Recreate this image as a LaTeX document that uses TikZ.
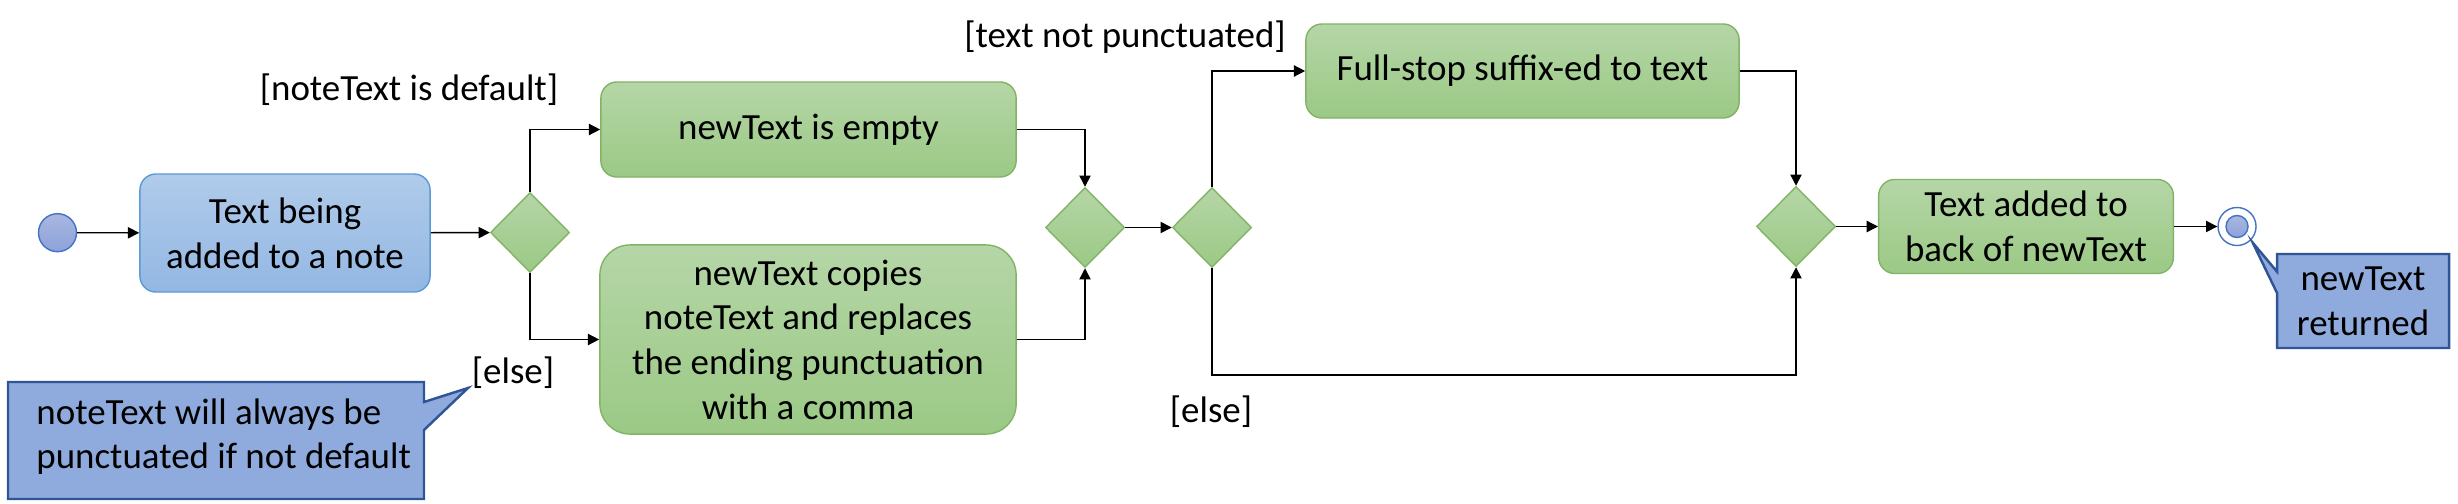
\documentclass[tikz,border=0pt]{standalone}
\usepackage{fontspec}
\setmainfont{Carlito}
\usetikzlibrary{shapes.geometric,arrows.meta}
\definecolor{greentop}{HTML}{B5D6A7}
\definecolor{greenbot}{HTML}{9BC985}
\definecolor{greenline}{HTML}{82B366}
\definecolor{bluetop}{HTML}{B0CBEA}
\definecolor{bluebot}{HTML}{93B7E3}
\definecolor{blueline}{HTML}{5B9BD5}
\definecolor{dottop}{HTML}{A9B7E1}
\definecolor{dotbot}{HTML}{8DA2D9}
\definecolor{dotline}{HTML}{4472C4}
\definecolor{notefill}{HTML}{8FAADC}
\definecolor{noteline}{HTML}{2F5597}
\tikzset{
  every node/.style={font=\fontsize{10.5pt}{12.7pt}\selectfont},
  action/.style={draw=greenline, line width=0.4pt, top color=greentop, bottom color=greenbot,
    rounded corners=0.16cm, align=center, inner sep=0pt},
  choice/.style={diamond, draw=greenline, line width=0.4pt, top color=greentop, bottom color=greenbot,
    minimum width=0.79cm, minimum height=0.8cm, inner sep=0pt},
  dot/.style={circle, draw=dotline, line width=0.4pt, top color=dottop, bottom color=dotbot,
    minimum size=0.38cm, inner sep=0pt},
  flow/.style={-{Triangle[length=3.2pt,width=3.2pt]}, line width=0.4pt},
  note/.style={draw=noteline, fill=notefill, line width=0.7pt}
}
\begin{document}
\begin{tikzpicture}[x=0.01cm,y=-0.01cm]
        \useasboundingbox (0,0) rectangle (2458,503);
        % Nodes
        \node at (57.5,232.7) [dot] (start) {};
        \node at (285,233) [action, draw=blueline, top color=bluetop, bottom color=bluebot,
          minimum width=2.9cm, minimum height=1.18cm] (adding) {Text being\\added to a note};
        \node at (530,232.5) [choice] (check) {};
        \node at (808.5,129.5) [action, minimum width=4.15cm, minimum height=0.95cm] (empty) {newText is empty};
        \node at (808,339.5) [action, rounded corners=0.3cm, minimum width=4.16cm, minimum height=1.89cm]
          (copies) {newText copies\\noteText and replaces\\the ending punctuation\\with a comma};
        \node at (1085,227.5) [choice] (merge) {};
        \node at (1212,227.5) [choice] (punct) {};
        \node at (1522.5,71) [action, minimum width=4.33cm, minimum height=0.94cm] (fullstop) {Full-stop suffix-ed to text};
        \node at (1796,226.5) [choice] (join) {};
        \node at (2026,226.5) [action, minimum width=2.945cm, minimum height=0.94cm] (added) {Text added to\\back of newText};
        \node at (2237,226.5) [circle, draw=dotline, line width=0.4pt, fill=white, minimum size=0.38cm] (final) {};
        \node at (2237,226.5) [dot, minimum size=0.22cm] (finaldot) {};
        \coordinate (skip) at (1212,375);

        % Guards
        \node at (409,90) (isdefault) {[noteText is default]};
        \node at (513,373) (notdefault) {[else]};
        \node at (1125,37) (nopunct) {[text not punctuated]};
        \node at (1211,412) (haspunct) {[else]};

        % Notes
        \draw[note] (8,382) -- (424,382) -- (424,402) -- (468,388) -- (424,430) -- (424,499) -- (8,499) -- cycle;
        \node at (24,436.5) [anchor=west, align=left] (remark) {noteText will always be\\punctuated if not default};
        \draw[note] (2277,254) -- (2449,254) -- (2449,348) -- (2277,348) -- (2277,293) -- (2252.7,242.7) -- (2277,271.7) -- cycle;
        \node at (2363,301.5) [align=center] (returned) {newText\\returned};

        % Arrows
        \draw[flow] (start) -- (adding);
        \draw[flow] (adding) -- (check);
        \draw[flow] (check.north) |- (empty.west);
        \draw[flow] (check.south) |- (copies.west);
        \draw[flow] (empty.east) -| (merge.north);
        \draw[flow] (copies.east) -| (merge.south);
        \draw[flow] (merge) -- (punct);
        \draw[flow] (punct.north) |- (fullstop.west);
        \draw[flow] (punct.south) -- (skip) -| (join.south);
        \draw[flow] (fullstop.east) -| (join.north);
        \draw[flow] (join) -- (added);
        \draw[flow] (added) -- (final);

    \end{tikzpicture}
\end{document}
